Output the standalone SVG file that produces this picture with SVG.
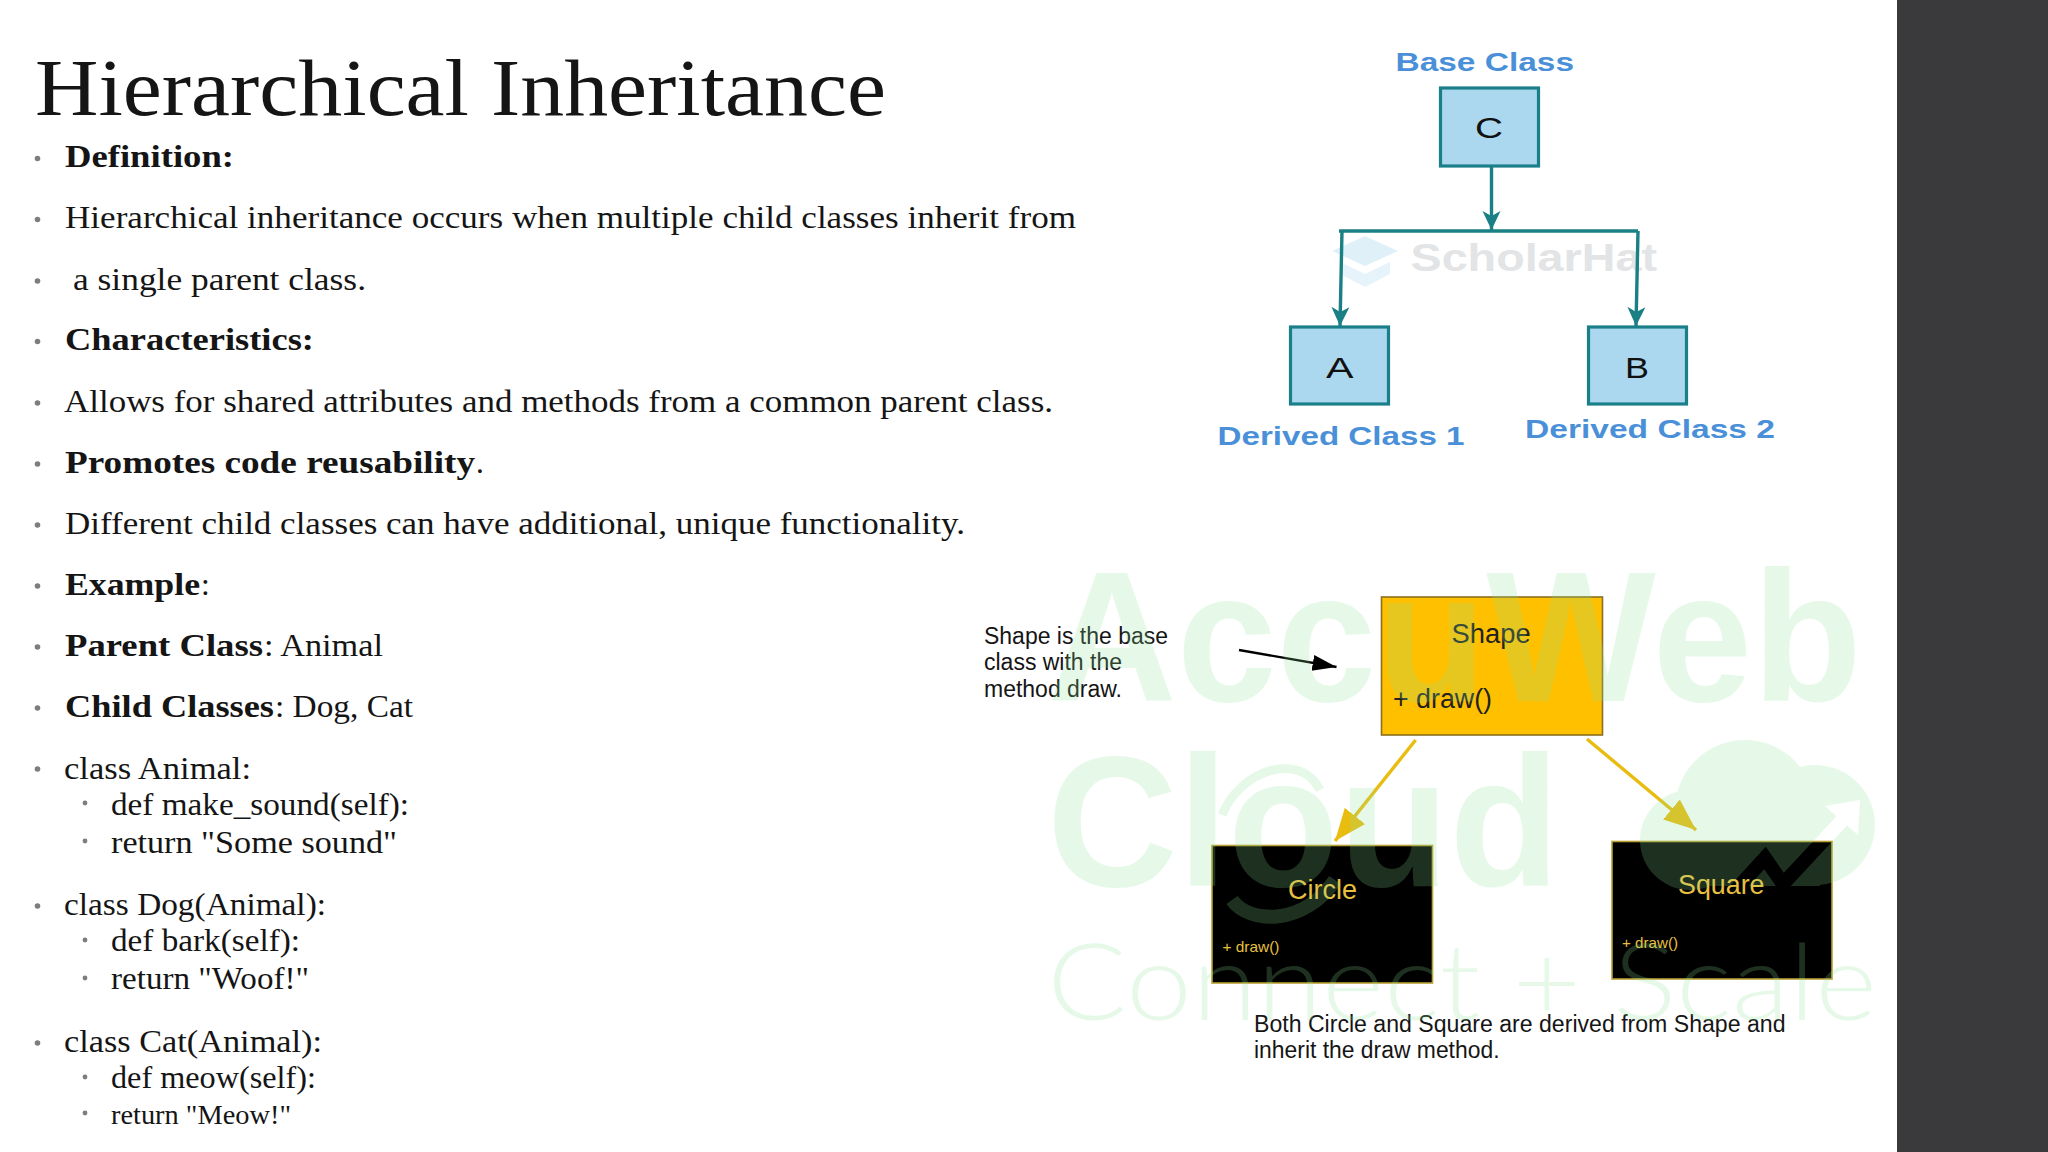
<svg xmlns="http://www.w3.org/2000/svg" width="2048" height="1152" viewBox="0 0 2048 1152">
<style>
.b{font-family:"Liberation Serif","Times New Roman",serif;font-size:31.4px;fill:#151515}
.bb{font-weight:700}
.s{font-family:"Liberation Sans",Arial,sans-serif}
.lab{font-size:25px;font-weight:700;fill:#4a90d9}
.let{font-size:29px;fill:#111}
.box{fill:#abd8ee;stroke:#1b7f8a;stroke-width:3.2}
.note{font-size:23.5px;fill:#151515}
.blk{fill:#000;stroke:#b8a030;stroke-width:1.6}
.yt{fill:#e8c040}
.teal{fill:none;stroke:#1b8085;stroke-width:3.4}
.yl{fill:none;stroke:#e9bc10;stroke-width:3.4}
.dot{fill:#7d7d7d}
</style>
<defs>
<marker id="ta" markerUnits="userSpaceOnUse" markerWidth="22" markerHeight="20" refX="19" refY="10" orient="auto"><path d="M0 1L19 10L0 19L5 10Z" fill="#1b8085"/></marker>
<marker id="ya" markerUnits="userSpaceOnUse" markerWidth="36" markerHeight="28" refX="32" refY="14" orient="auto"><path d="M0 1L32 14L0 27Z" fill="#e9bc10"/></marker>
<marker id="ka" markerUnits="userSpaceOnUse" markerWidth="26" markerHeight="20" refX="24" refY="10" orient="auto"><path d="M0 2L24 10L0 18Z" fill="#000"/></marker>
<mask id="cut" maskUnits="userSpaceOnUse" x="1600" y="700" width="300" height="220">
<rect x="1600" y="700" width="300" height="220" fill="#fff"/>
<path d="M1722 905L1765 858L1783 884L1852 810" fill="none" stroke="#000" stroke-width="14"/>
<path d="M1825 806L1860 800L1858 835Z" fill="#000"/>
</mask>
</defs>
<rect id="background" width="2048" height="1152" fill="#fff"/>
<rect id="side-panel" x="1897" y="0" width="151" height="1152" fill="#3a3a3c"/>
<g id="title"><text class="b" x="35" y="114.5" style="font-size:80px" textLength="851" lengthAdjust="spacingAndGlyphs" fill="#111">Hierarchical Inheritance</text></g>
<g id="bullets" class="dot">
<circle cx="37.5" cy="158.5" r="2.8"/><circle cx="37.5" cy="219.5" r="2.8"/><circle cx="37.5" cy="281" r="2.8"/><circle cx="37.5" cy="341.5" r="2.8"/><circle cx="37.5" cy="403" r="2.8"/><circle cx="37.5" cy="464" r="2.8"/><circle cx="37.5" cy="525" r="2.8"/><circle cx="37.5" cy="586" r="2.8"/><circle cx="37.5" cy="647" r="2.8"/><circle cx="37.5" cy="708" r="2.8"/><circle cx="37.5" cy="769" r="2.8"/><circle cx="37.5" cy="906" r="2.8"/><circle cx="37.5" cy="1043" r="2.8"/>
<circle cx="85" cy="803" r="2.4"/><circle cx="85" cy="841" r="2.4"/><circle cx="85" cy="940" r="2.4"/><circle cx="85" cy="978" r="2.4"/><circle cx="85" cy="1077" r="2.4"/><circle cx="85" cy="1113" r="2.4"/>
</g>
<g id="body-text">
<text class="b bb" x="65" y="167" textLength="169" lengthAdjust="spacingAndGlyphs">Definition:</text>
<text class="b" x="65" y="228" textLength="1011" lengthAdjust="spacingAndGlyphs">Hierarchical inheritance occurs when multiple child classes inherit from</text>
<text class="b" x="73" y="290" textLength="293" lengthAdjust="spacingAndGlyphs">a single parent class.</text>
<text class="b bb" x="65" y="350" textLength="249" lengthAdjust="spacingAndGlyphs">Characteristics:</text>
<text class="b" x="64" y="412" textLength="989" lengthAdjust="spacingAndGlyphs">Allows for shared attributes and methods from a common parent class.</text>
<text class="b" x="65" y="472.5"><tspan class="bb" x="65" textLength="410" lengthAdjust="spacingAndGlyphs">Promotes code reusability</tspan><tspan x="476">.</tspan></text>
<text class="b" x="65" y="534" textLength="900" lengthAdjust="spacingAndGlyphs">Different child classes can have additional, unique functionality.</text>
<text class="b" x="65" y="595"><tspan class="bb" x="65" textLength="135" lengthAdjust="spacingAndGlyphs">Example</tspan><tspan x="201">:</tspan></text>
<text class="b" x="65" y="656"><tspan class="bb" x="65" textLength="198" lengthAdjust="spacingAndGlyphs">Parent Class</tspan><tspan x="264" textLength="119" lengthAdjust="spacingAndGlyphs">: Animal</tspan></text>
<text class="b" x="65" y="717"><tspan class="bb" x="65" textLength="209" lengthAdjust="spacingAndGlyphs">Child Classes</tspan><tspan x="275" textLength="138" lengthAdjust="spacingAndGlyphs">: Dog, Cat</tspan></text>
<text class="b" x="64" y="779" textLength="187" lengthAdjust="spacingAndGlyphs">class Animal:</text>
<text class="b" x="111" y="814.5" textLength="298" lengthAdjust="spacingAndGlyphs">def make_sound(self):</text>
<text class="b" x="111" y="852.5" textLength="286" lengthAdjust="spacingAndGlyphs">return "Some sound"</text>
<text class="b" x="64" y="915" textLength="262" lengthAdjust="spacingAndGlyphs">class Dog(Animal):</text>
<text class="b" x="111" y="951" textLength="189" lengthAdjust="spacingAndGlyphs">def bark(self):</text>
<text class="b" x="111" y="988.5" textLength="198" lengthAdjust="spacingAndGlyphs">return "Woof!"</text>
<text class="b" x="64" y="1052" textLength="258" lengthAdjust="spacingAndGlyphs">class Cat(Animal):</text>
<text class="b" x="111" y="1088" textLength="205" lengthAdjust="spacingAndGlyphs">def meow(self):</text>
<text class="b" x="111" y="1123.5" style="font-size:27px" textLength="180" lengthAdjust="spacingAndGlyphs">return "Meow!"</text>
</g>
<g id="scholarhat-watermark">
<path d="M1365 236L1398 251L1365 266L1332 251Z" fill="#dff0f8"/>
<path d="M1340 262L1365 274L1390 262V274L1365 287L1340 274Z" fill="#e6f3fa"/>
<text class="s" x="1410.5" y="270.5" font-size="38" font-weight="700" fill="#e2e4e6" textLength="246.5" lengthAdjust="spacingAndGlyphs">ScholarHat</text>
</g>
<g id="connectors">
<path class="teal" d="M1491.5 166V230" marker-end="url(#ta)"/>
<path class="teal" d="M1339 231H1638"/>
<path class="teal" d="M1342 231L1340 326" marker-end="url(#ta)"/>
<path class="teal" d="M1638 231L1636 326" marker-end="url(#ta)"/>
<path fill="none" stroke="#000" stroke-width="2.4" d="M1239 650L1336.5 667" marker-end="url(#ka)"/>
<path class="yl" d="M1415.6 740L1335 841" marker-end="url(#ya)"/>
<path class="yl" d="M1587 739L1696 830" marker-end="url(#ya)"/>
</g>
<g id="node-c"><rect class="box" x="1440.5" y="88" width="98" height="78"/><text class="s let" x="1475" y="138" textLength="28" lengthAdjust="spacingAndGlyphs">C</text></g>
<g id="node-a"><rect class="box" x="1290.5" y="327" width="98" height="77"/><text class="s let" x="1326" y="378" textLength="27.5" lengthAdjust="spacingAndGlyphs">A</text></g>
<g id="node-b"><rect class="box" x="1588.5" y="327" width="98" height="77"/><text class="s let" x="1625" y="378" textLength="24" lengthAdjust="spacingAndGlyphs">B</text></g>
<g id="labels">
<text class="s lab" x="1395.5" y="70.5" textLength="178.5" lengthAdjust="spacingAndGlyphs">Base Class</text>
<text class="s lab" x="1217.5" y="445" textLength="247" lengthAdjust="spacingAndGlyphs">Derived Class 1</text>
<text class="s lab" x="1525" y="438" textLength="250" lengthAdjust="spacingAndGlyphs">Derived Class 2</text>
</g>
<g id="note-base"><text class="s note" x="984" y="643.5" textLength="184" lengthAdjust="spacingAndGlyphs">Shape is the base</text><text class="s note" x="984" y="670" textLength="138" lengthAdjust="spacingAndGlyphs">class with the</text><text class="s note" x="984" y="696.5" textLength="138" lengthAdjust="spacingAndGlyphs">method draw.</text></g>
<g id="node-shape"><rect x="1381.5" y="597" width="221" height="138" fill="#ffc000" stroke="#8a7020" stroke-width="1.6"/><text class="s" x="1451.6" y="643" font-size="27" fill="#222" textLength="79" lengthAdjust="spacingAndGlyphs">Shape</text><text class="s" x="1393" y="708" font-size="27" fill="#222" textLength="99" lengthAdjust="spacingAndGlyphs">+ draw()</text></g>
<g id="node-circle"><rect class="blk" x="1212" y="845.5" width="220.5" height="137.5"/><text class="s yt" x="1288" y="898.5" font-size="27" textLength="69" lengthAdjust="spacingAndGlyphs">Circle</text><text class="s yt" x="1222.5" y="952" font-size="14.5" textLength="57" lengthAdjust="spacingAndGlyphs">+ draw()</text></g>
<g id="node-square"><rect class="blk" x="1612" y="841.5" width="220" height="137.5"/><text class="s yt" x="1678" y="894" font-size="27" textLength="86.5" lengthAdjust="spacingAndGlyphs">Square</text><text class="s yt" x="1622" y="948" font-size="14.5" textLength="56" lengthAdjust="spacingAndGlyphs">+ draw()</text></g>
<g id="note-derived"><text class="s note" x="1254" y="1031.5" textLength="531.5" lengthAdjust="spacingAndGlyphs">Both Circle and Square are derived from Shape and</text><text class="s note" x="1254" y="1058" textLength="245.5" lengthAdjust="spacingAndGlyphs">inherit the draw method.</text></g>
<g id="accuweb-watermark" opacity="0.21" fill="#8fe498">
<text x="1047" y="701" font-family="'Liberation Sans',Arial,sans-serif" font-weight="700" font-size="185" textLength="815" lengthAdjust="spacingAndGlyphs">AccuWeb</text>
<text x="1047" y="886" font-family="'Liberation Sans',Arial,sans-serif" font-weight="700" font-size="185" textLength="513" lengthAdjust="spacingAndGlyphs">Cloud</text>
<text x="1047" y="1020" font-family="Lato,'Liberation Sans',sans-serif" font-weight="300" font-size="107" textLength="830" lengthAdjust="spacingAndGlyphs">Connect + Scale</text>
<path d="M1222 815C1240 770 1300 750 1320 790" fill="none" stroke="#8fe498" stroke-width="9"/>
<path d="M1232 900C1250 925 1305 925 1335 880" fill="none" stroke="#8fe498" stroke-width="14"/>
<g mask="url(#cut)"><circle cx="1745" cy="810" r="70"/><circle cx="1815" cy="825" r="60"/><circle cx="1690" cy="840" r="50"/><rect x="1690" y="830" width="130" height="56"/></g>
</g>
</svg>
